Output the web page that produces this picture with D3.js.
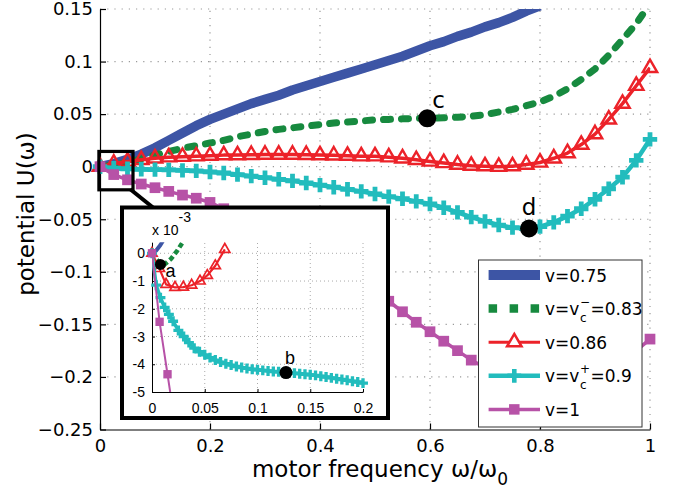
<!DOCTYPE html>
<html>
<head>
<meta charset="utf-8">
<script src="https://cdn.jsdelivr.net/npm/d3@7"></script>
<style>
  body { margin: 0; background: #fff; }
  svg { display: block; }
</style>
</head>
<body>
<svg id="chart" width="673" height="496"></svg>
<script>
// ---- data: potential U(omega) for several speeds v ----
const omega = [0,0.025,0.05,0.075,0.1,0.125,0.15,0.175,0.2,0.225,0.25,0.275,0.3,0.325,0.35,0.375,0.4,0.425,0.45,0.475,0.5,0.525,0.55,0.575,0.6,0.625,0.65,0.675,0.7,0.725,0.75,0.775,0.8,0.825,0.85,0.875,0.9,0.925,0.95,0.975,1.0];

const uV075 = [0,0.003,0.007,0.012,0.018,0.025,0.032,0.039,0.045,0.050,0.055,0.060,0.064,0.068,0.073,0.077,0.081,0.085,0.089,0.093,0.097,0.101,0.105,0.110,0.115,0.119,0.124,0.128,0.133,0.137,0.142,0.148,0.153];
const uV083 = [0,0.0015,0.004,0.0075,0.011,0.0145,0.0175,0.020,0.0225,0.025,0.0285,0.031,0.0335,0.0355,0.037,0.0385,0.040,0.0415,0.0425,0.0435,0.0445,0.045,0.0455,0.046,0.046,0.0465,0.047,0.048,0.0495,0.052,0.0545,0.058,0.0615,0.067,0.074,0.083,0.093,0.106,0.121,0.136,0.155];
const uV086 = [0,0.003,0.005,0.0065,0.008,0.009,0.0095,0.010,0.0105,0.011,0.011,0.0113,0.0115,0.0115,0.0115,0.0113,0.011,0.0108,0.0105,0.010,0.010,0.009,0.008,0.0065,0.005,0.0035,0.002,0.001,0.0005,0.0,0.0005,0.002,0.004,0.008,0.013,0.021,0.031,0.045,0.060,0.077,0.094];
const uV090 = [0,-0.0015,-0.002,-0.0025,-0.0028,-0.003,-0.0035,-0.004,-0.005,-0.006,-0.0075,-0.009,-0.0105,-0.012,-0.0135,-0.0155,-0.0175,-0.0195,-0.0215,-0.0235,-0.026,-0.0285,-0.0305,-0.033,-0.0355,-0.039,-0.0435,-0.048,-0.052,-0.0555,-0.058,-0.0588,-0.057,-0.053,-0.047,-0.040,-0.031,-0.021,-0.010,0.006,0.026];
const uV100 = [0,-0.0075,-0.0125,-0.0165,-0.020,-0.0235,-0.027,-0.030,-0.034,-0.040,-0.047,-0.054,-0.061,-0.068,-0.075,-0.082,-0.089,-0.096,-0.103,-0.111,-0.119,-0.128,-0.138,-0.148,-0.157,-0.166,-0.175,-0.184,-0.191,-0.197,-0.202,-0.206,-0.208,-0.209,-0.208,-0.205,-0.200,-0.193,-0.185,-0.175,-0.164];

// close-up near omega = 0 (values in units of 1e-3)
const zoomW075 = [0,0.004,0.008,0.012];
const zoomU075 = [0,0.1,0.3,0.55];
const zoomW083 = [0,0.006,0.012,0.018,0.024,0.03];
const zoomU083 = [0,-0.3,-0.4,-0.2,0.1,0.45];
const zoomW086 = [0,0.007,0.0133,0.0218,0.0297,0.0376,0.0455,0.0524,0.06,0.069];
const zoomU086 = [0,-0.55,-1.12,-1.23,-1.22,-1.15,-1.0,-0.8,-0.45,0.14];
const zoomW090 = [0,0.004,0.008,0.012,0.016,0.02,0.025,0.03,0.035,0.04,0.045,0.05,0.055,0.06,0.065,0.07,0.075,0.08,0.085,0.09,0.095,0.1,0.105,0.11,0.115,0.12,0.125,0.13,0.135,0.14,0.145,0.15,0.155,0.16,0.165,0.17,0.175,0.18,0.185,0.19,0.195,0.2];
const zoomU090 = [0,-1.15,-1.6,-1.95,-2.2,-2.45,-2.78,-3.0,-3.22,-3.42,-3.55,-3.66,-3.76,-3.85,-3.92,-3.98,-4.03,-4.08,-4.12,-4.15,-4.18,-4.2,-4.22,-4.24,-4.26,-4.27,-4.29,-4.3,-4.32,-4.34,-4.36,-4.38,-4.4,-4.43,-4.46,-4.49,-4.52,-4.55,-4.58,-4.61,-4.64,-4.68];
const zoomW100 = [0,0.0072,0.0147,0.022];
const zoomU100 = [0,-2.47,-4.36,-6.2];

const markedPoints = [{w:0.595, u:0.046, label:'c'}, {w:0.78, u:-0.0588, label:'d'}];
const zoomMarked = [{w:0.008, u:-0.4, label:'a'}, {w:0.127, u:-4.3, label:'b'}];

const legendLabels = ['v=0.75', 'v=v_c^−=0.83', 'v=0.86', 'v=v_c^+=0.9', 'v=1'];

const xTicks = [0,0.2,0.4,0.6,0.8,1];
const xTickLabels = ['0','0.2','0.4','0.6','0.8','1'];
const yTicks = [-0.25,-0.2,-0.15,-0.1,-0.05,0,0.05,0.1,0.15];
const yTickLabels = ['−0.25','−0.2','−0.15','−0.1','−0.05','0','0.05','0.1','0.15'];
const zxTicks = [0,0.05,0.1,0.15,0.2];
const zxTickLabels = ['0','0.05','0.1','0.15','0.2'];
const zyTicks = [-5,-4,-3,-2,-1,0];
const zyTickLabels = ['-5','-4','-3','-2','-1','0'];

// ---- styles ----
const COLORS = ['#3d55a5', '#178a3f', '#ec2229', '#22bcbd', '#b752a7'];
const MAIN_FONT = 'DejaVu Sans, sans-serif';
const ZOOM_FONT = 'Liberation Sans, Arial, sans-serif';

const svg = d3.select('#chart');

// ---- main axes ----
const x = d3.scaleLinear().domain([0, 1]).range([100, 650]);
const y = d3.scaleLinear().domain([-0.25, 0.15]).range([429.5, 9]);

const grid = svg.append('g').attr('stroke', '#9a9a9a').attr('stroke-width', 1.2)
  .attr('stroke-dasharray', '1.2,6');
xTicks.filter(t => t > 0).forEach(t => grid.append('line')
  .attr('x1', x(t)).attr('x2', x(t)).attr('y1', y.range()[0]).attr('y2', y.range()[1]));
yTicks.filter(t => t > -0.25).forEach(t => grid.append('line')
  .attr('x1', x.range()[0]).attr('x2', x.range()[1]).attr('y1', y(t)).attr('y2', y(t)));

const xAxis = svg.append('g').attr('transform', `translate(0,${y.range()[0]})`)
  .call(d3.axisBottom(x).tickValues(xTicks).tickFormat((d, i) => xTickLabels[i])
    .tickSizeInner(-6).tickSizeOuter(0).tickPadding(10));
const yAxis = svg.append('g').attr('transform', `translate(${x.range()[0]},0)`)
  .call(d3.axisLeft(y).tickValues(yTicks).tickFormat((d, i) => yTickLabels[i])
    .tickSizeInner(-6).tickSizeOuter(0).tickPadding(7));
[xAxis, yAxis].forEach(a => {
  a.selectAll('path.domain').attr('stroke', '#000').attr('stroke-width', 1.2);
  a.selectAll('line').attr('stroke', '#000').attr('stroke-width', 1.2);
  a.selectAll('text').attr('fill', '#000').style('font-family', MAIN_FONT).style('font-size', '18px');
});

// axis titles
const xTitle = svg.append('text').attr('x', 380).attr('y', 477)
  .attr('text-anchor', 'middle').style('font-family', MAIN_FONT).style('font-size', '23px');
xTitle.append('tspan').text('motor frequency ω/ω');
xTitle.append('tspan').attr('dy', 8).style('font-size', '17px').text('0');

svg.append('text').attr('transform', 'translate(34,214) rotate(-90)')
  .attr('text-anchor', 'middle').style('font-family', MAIN_FONT).style('font-size', '23px')
  .text('potential U(ω)');

// ---- series ----
svg.append('clipPath').attr('id', 'plotClip').append('rect')
  .attr('x', x.range()[0]).attr('y', y.range()[1])
  .attr('width', x.range()[1] - x.range()[0]).attr('height', y.range()[0] - y.range()[1]);

const mainSeries = [
  { vals: uV075, width: 9.5 },
  { vals: uV083, width: 7, dash: '7,11', cap: 'round' },
  { vals: uV086, width: 3.5, marker: 'triangle', msize: 90, mstroke: 2.4 },
  { vals: uV090, width: 4.5, marker: 'cross', msize: 115 },
  { vals: uV100, width: 3.5, marker: 'square', msize: 115 }
];

function symbolFor(kind, size) {
  const t = kind === 'triangle' ? d3.symbolTriangle : kind === 'cross' ? d3.symbolCross : d3.symbolSquare;
  return d3.symbol().type(t).size(size)();
}

function drawSeries(g, pts, s, color, xs, ys, clipId) {
  const line = d3.line().x(d => xs(d[0])).y(d => ys(d[1]));
  const p = g.append('path').datum(pts).attr('d', line)
    .attr('fill', 'none').attr('stroke', color).attr('stroke-width', s.width)
    .attr('stroke-linejoin', 'round').attr('clip-path', `url(#${clipId})`);
  if (s.dash) p.attr('stroke-dasharray', s.dash).attr('stroke-linecap', s.cap || 'butt');
  if (s.marker) {
    const [y0, y1] = ys.domain();
    const [x0, x1] = xs.domain();
    const inside = pts.filter(d => d[1] >= Math.min(y0, y1) && d[1] <= Math.max(y0, y1) && d[0] >= x0 && d[0] <= x1);
    const m = g.append('g').selectAll('path').data(inside).join('path')
      .attr('transform', d => `translate(${xs(d[0])},${ys(d[1])})`)
      .attr('d', symbolFor(s.marker, s.msize));
    if (s.marker === 'triangle') m.attr('fill', 'none').attr('stroke', color).attr('stroke-width', s.mstroke || 2.2);
    else m.attr('fill', color);
  }
}

const seriesLayer = svg.append('g');
mainSeries.forEach((s, i) => {
  const pts = s.vals.map((v, k) => [omega[k], v]);
  drawSeries(seriesLayer, pts, s, COLORS[i], x, y, 'plotClip');
});

// marked operating points
markedPoints.forEach(p => {
  svg.append('circle').attr('cx', x(p.w)).attr('cy', y(p.u)).attr('r', 9).attr('fill', '#000');
});
svg.append('text').attr('x', x(markedPoints[0].w) + 5).attr('y', y(markedPoints[0].u) - 10)
  .style('font-family', MAIN_FONT).style('font-size', '23px').text(markedPoints[0].label);
svg.append('text').attr('x', x(markedPoints[1].w)).attr('y', y(markedPoints[1].u) - 14)
  .attr('text-anchor', 'middle').style('font-family', MAIN_FONT).style('font-size', '23px').text(markedPoints[1].label);

// ---- close-up panel ----
const box = { x: 122, y: 207.5, w: 266, h: 210.5 };
const zx = d3.scaleLinear().domain([0, 0.2]).range([152, 363]);
const zy = d3.scaleLinear().domain([-5, 0.4]).range([392, 242.2]);

// region outline and connector
svg.append('rect')
  .attr('x', x(-0.002)).attr('y', y(0.0145))
  .attr('width', x(0.06) - x(-0.002)).attr('height', y(-0.022) - y(0.0145))
  .attr('fill', 'none').attr('stroke', '#000').attr('stroke-width', 3.2);
svg.append('line')
  .attr('x1', x(0.055)).attr('y1', y(-0.0215))
  .attr('x2', zx(0) + 1).attr('y2', box.y)
  .attr('stroke', '#000').attr('stroke-width', 4);

const inset = svg.append('g');
inset.append('rect').attr('x', box.x).attr('y', box.y).attr('width', box.w).attr('height', box.h)
  .attr('fill', '#fff').attr('stroke', '#000').attr('stroke-width', 4);

const zgrid = inset.append('g').attr('stroke', '#aaa').attr('stroke-width', 1)
  .attr('stroke-dasharray', '1,3');
zxTicks.filter(t => t > 0).forEach(t => zgrid.append('line')
  .attr('x1', zx(t)).attr('x2', zx(t)).attr('y1', zy.range()[0]).attr('y2', zy.range()[1]));
zyTicks.filter(t => t > -5).forEach(t => zgrid.append('line')
  .attr('x1', zx.range()[0]).attr('x2', zx.range()[1]).attr('y1', zy(t)).attr('y2', zy(t)));

const zxAxis = inset.append('g').attr('transform', `translate(0,${zy.range()[0]})`)
  .call(d3.axisBottom(zx).tickValues(zxTicks).tickFormat((d, i) => zxTickLabels[i])
    .tickSizeInner(-3).tickSizeOuter(0).tickPadding(11));
const zyAxis = inset.append('g').attr('transform', `translate(${zx.range()[0]},0)`)
  .call(d3.axisLeft(zy).tickValues(zyTicks).tickFormat((d, i) => zyTickLabels[i])
    .tickSizeInner(-3).tickSizeOuter(0).tickPadding(7));
[zxAxis, zyAxis].forEach(a => {
  a.selectAll('path.domain').attr('stroke', '#000').attr('stroke-width', 1);
  a.selectAll('line').attr('stroke', '#000');
  a.selectAll('text').attr('fill', '#000').style('font-family', ZOOM_FONT).style('font-size', '14px');
});

// exponent label
const expo = inset.append('text').attr('x', zx(0)).attr('y', 235)
  .style('font-family', ZOOM_FONT).style('font-size', '14px');
expo.append('tspan').text('x 10');
expo.append('tspan').attr('dy', -13).text('-3');

svg.append('clipPath').attr('id', 'zoomClip').append('rect')
  .attr('x', zx.range()[0]).attr('y', zy.range()[1])
  .attr('width', zx.range()[1] - zx.range()[0] + 8).attr('height', zy.range()[0] - zy.range()[1]);

const zoomSeries = [
  { w: zoomW075, u: zoomU075, width: 4 },
  { w: zoomW083, u: zoomU083, width: 4.5, dash: '5,3' },
  { w: zoomW086, u: zoomU086, width: 2.2, marker: 'triangle', msize: 45, mstroke: 1.7 },
  { w: zoomW090, u: zoomU090, width: 3.5, marker: 'cross', msize: 55 },
  { w: zoomW100, u: zoomU100, width: 2, marker: 'square', msize: 70 }
];
zoomSeries.forEach((s, i) => {
  const pts = s.u.map((v, k) => [s.w[k], v]);
  drawSeries(inset, pts, s, COLORS[i], zx, zy, 'zoomClip');
});

zoomMarked.forEach((p, i) => {
  inset.append('circle').attr('cx', zx(p.w)).attr('cy', zy(p.u)).attr('r', i === 0 ? 5.5 : 6.5).attr('fill', '#000');
});
inset.append('text').attr('x', zx(zoomMarked[0].w) + 5).attr('y', zy(zoomMarked[0].u) + 13)
  .style('font-family', ZOOM_FONT).style('font-size', '18px').text(zoomMarked[0].label);
inset.append('text').attr('x', zx(zoomMarked[1].w) + 4).attr('y', zy(zoomMarked[1].u) - 9)
  .attr('text-anchor', 'middle').style('font-family', ZOOM_FONT).style('font-size', '18px').text(zoomMarked[1].label);

// ---- legend ----
const legend = svg.append('g');
const lg = { x: 478.5, y: 260, w: 163.5, h: 167, row0: 275, rowStep: 33.6 };
legend.append('rect').attr('x', lg.x).attr('y', lg.y).attr('width', lg.w).attr('height', lg.h)
  .attr('fill', '#fff').attr('stroke', '#333').attr('stroke-width', 1);

const legendStyles = [
  { width: 10 },
  { width: 8.5, dash: '8.5,12.5' },
  { width: 3, marker: 'triangle', msize: 90 },
  { width: 4.5, marker: 'cross', msize: 105 },
  { width: 3.5, marker: 'square', msize: 110 }
];
legendLabels.forEach((lab, i) => {
  const cy = lg.row0 + i * lg.rowStep;
  const st = legendStyles[i];
  const ln = legend.append('line').attr('x1', 488.6).attr('x2', 540).attr('y1', cy).attr('y2', cy)
    .attr('stroke', COLORS[i]).attr('stroke-width', st.width);
  if (st.dash) ln.attr('stroke-dasharray', st.dash);
  if (st.marker) {
    const m = legend.append('path').attr('transform', `translate(514.3,${cy})`).attr('d', symbolFor(st.marker, st.msize));
    if (st.marker === 'triangle') m.attr('fill', '#fff').attr('stroke', COLORS[i]).attr('stroke-width', 2.5);
    else m.attr('fill', COLORS[i]);
  }
  const base = cy + 6.5;
  const parts = lab.match(/^(.*)_(\w)\^(.)(.*)$/);
  const mk = (tx, ty, str, size) => legend.append('text').attr('x', tx).attr('y', ty)
    .style('font-family', MAIN_FONT).style('font-size', size + 'px').attr('fill', '#000').text(str);
  if (!parts) {
    mk(545, base, lab, 17);
  } else {
    const t1 = mk(545, base, parts[1], 17);
    const x1 = 545 + t1.node().getComputedTextLength();
    const sup = mk(x1 + 0.5, base - 9, parts[3], 12);
    const sub = mk(x1 + 0.5, base + 7, parts[2], 12);
    const w = Math.max(sup.node().getComputedTextLength(), sub.node().getComputedTextLength());
    mk(x1 + 1 + w, base, parts[4], 17);
  }
});
</script>
</body>
</html>
